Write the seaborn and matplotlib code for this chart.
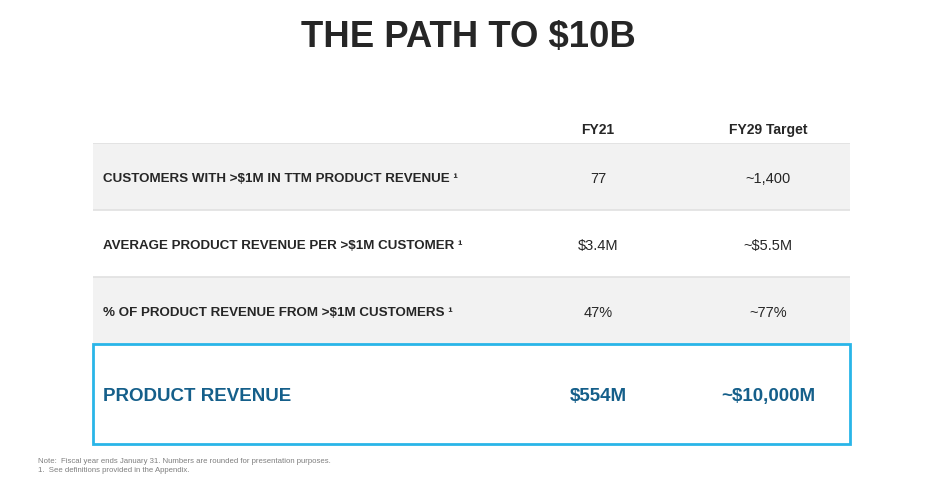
import numpy as np
import pandas as pd
import matplotlib
matplotlib.use("Agg")
import matplotlib.pyplot as plt
import seaborn as sns
from matplotlib.patches import Rectangle

sns.set_theme(style="white")
plt.rcParams["font.family"] = ["Liberation Sans", "DejaVu Sans"]

# data
title = "THE PATH TO $10B"
columns = ["FY21", "FY29 Target"]
metrics = [
    "CUSTOMERS WITH >$1M IN TTM PRODUCT REVENUE",
    "AVERAGE PRODUCT REVENUE PER >$1M CUSTOMER",
    "% OF PRODUCT REVENUE FROM >$1M CUSTOMERS",
]
fy21_values = ["77", "$3.4M", "47%"]
fy29_values = ["~1,400", "~$5.5M", "~77%"]
total_label = "PRODUCT REVENUE"
total_values = ["$554M", "~$10,000M"]
notes = [
    "Note:  Fiscal year ends January 31. Numbers are rounded for presentation purposes.",
    "1.  See definitions provided in the Appendix.",
]

TEXT = "#262626"
BLUE_TXT = "#155f8a"
BOX = "#29b5e8"
BAND = "#f2f2f2"

fig = plt.figure(figsize=(9.36, 4.90), dpi=100)
fig.patch.set_facecolor("white")

fig.text(0.5, 1 - 37 / 490, title, ha="center", va="center", fontsize=26.3,
         fontweight="bold", color=TEXT)

# table axes: x 93..850 px, y 143..444 px
ax = fig.add_axes([93 / 936, 1 - 444 / 490, (850 - 93) / 936, (444 - 143) / 490])
n = len(metrics)
ax.set_xlim(0, 1)
ax.set_ylim(n + 1.5, 0)
ax.axis("off")

df = pd.DataFrame({"metric": metrics, "fy21": fy21_values, "fy29": fy29_values})
df["row"] = np.arange(n) + 0.5
df["shade"] = [BAND if i % 2 == 0 else "white" for i in range(n)]

ax.barh(df["row"], 1, height=1, left=0, color=df["shade"], edgecolor="none")
for y in range(n):
    ax.axhline(y, color="#e0e0e0", lw=1.2)

col_x = [0.667, 0.892]
for cx, c in zip(col_x, columns):
    ax.text(cx, -0.2, c, ha="center", va="center", fontsize=10,
            fontweight="bold", color=TEXT, clip_on=False)

dy = 0.04  # text sits a little below the band centre
for _, r in df.iterrows():
    ax.text(0.013, r["row"] + dy, r["metric"] + " \u00b9", ha="left", va="center",
            fontsize=9.6, fontweight="bold", color=TEXT)
    ax.text(col_x[0], r["row"] + dy, r["fy21"], ha="center", va="center",
            fontsize=10.5, color=TEXT)
    ax.text(col_x[1], r["row"] + dy, r["fy29"], ha="center", va="center",
            fontsize=10.5, color=TEXT)

ax.add_patch(Rectangle((0, n), 1, 1.5, facecolor="white", edgecolor=BOX,
                       lw=2, clip_on=False))
ty = n + 0.79
ax.text(0.013, ty, total_label, ha="left", va="center", fontsize=13.5,
        fontweight="bold", color=BLUE_TXT)
for cx, v in zip(col_x, total_values):
    ax.text(cx, ty, v, ha="center", va="center", fontsize=13.5,
            fontweight="bold", color=BLUE_TXT)

for i, t in enumerate(notes):
    fig.text(38 / 936, 1 - (461 + i * 9.5) / 490, t, ha="left", va="center",
             fontsize=5.6, color="#7f7f7f")

fig.savefig("out.png", dpi=100, facecolor="white")
plt.close(fig)
